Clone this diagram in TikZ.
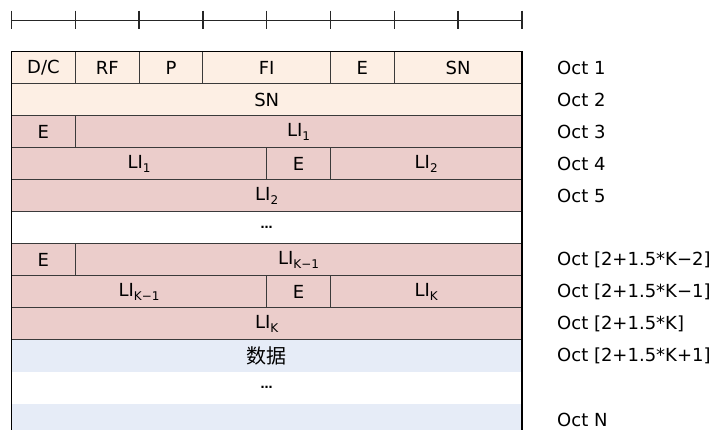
\documentclass[tikz,border=0pt]{standalone}
\usepackage{fontspec}
\setmainfont{DejaVu Sans}
\newfontfamily\cjk{Noto Sans CJK SC}
\usetikzlibrary{positioning}

\definecolor{octpeach}{HTML}{FDEFE4}
\definecolor{octpink}{HTML}{EBCDCB}
\definecolor{octblue}{HTML}{E6ECF7}
\definecolor{octline}{HTML}{3A3A3A}

\tikzset{
  cell/.style={draw=octline, line width=0.9pt},
  fieldtext/.style={font=\fontsize{18}{18}\selectfont, inner sep=0pt},
  octlabel/.style={anchor=west, inner sep=0pt, font=\fontsize{18}{18}\selectfont},
  ruler/.style={draw=black!85, line width=1pt},
  outer/.style={draw=black, line width=1.2pt},
}
\newcommand\lisub[1]{LI\raisebox{-0.4ex}{\fontsize{12}{12}\selectfont #1}}
\newcommand\octdots{{\fontsize{12}{12}\selectfont\bfseries …}}
% name, from bit, to bit, row, colour, text
\newcommand\octfield[6]{%
  \draw[cell, fill=#5] (#2,#4-1) rectangle (#3,#4);
  \node[fieldtext] (#1) at ({(#2+#3)/2},#4-0.5) {#6};
}

\begin{document}
\begin{tikzpicture}[x=63.8pt, y=-32pt]
  \useasboundingbox (-11.5pt,51.7pt) rectangle (702.5pt,-378.3pt);
  \clip (-11.5pt,51.7pt) rectangle (702.5pt,-378.3pt);

  % bit ruler
  \draw[ruler] (0,-0.99) -- (8,-0.99);
  \foreach \b in {0,...,8}
    \draw[ruler, line width=1.3pt] (\b,-1.28) -- (\b,-0.70);

  % octet 1 and 2
  \octfield{dc}{0}{1}{1}{octpeach}{D/C}
  \octfield{rf}{1}{2}{1}{octpeach}{RF}
  \octfield{p}{2}{3}{1}{octpeach}{P}
  \octfield{fi}{3}{5}{1}{octpeach}{FI}
  \octfield{ea}{5}{6}{1}{octpeach}{E}
  \octfield{sna}{6}{8}{1}{octpeach}{SN}
  \octfield{snb}{0}{8}{2}{octpeach}{SN}

  % length indicators
  \octfield{eb}{0}{1}{3}{octpink}{E}
  \octfield{lione}{1}{8}{3}{octpink}{\lisub{1}}
  \octfield{lionb}{0}{4}{4}{octpink}{\lisub{1}}
  \octfield{ec}{4}{5}{4}{octpink}{E}
  \octfield{litwo}{5}{8}{4}{octpink}{\lisub{2}}
  \octfield{litwb}{0}{8}{5}{octpink}{\lisub{2}}
  \octfield{dotsa}{0}{8}{6}{white}{\octdots}
  \octfield{ed}{0}{1}{7}{octpink}{E}
  \octfield{likm}{1}{8}{7}{octpink}{\lisub{K−1}}
  \octfield{likmb}{0}{4}{8}{octpink}{\lisub{K−1}}
  \octfield{ee}{4}{5}{8}{octpink}{E}
  \octfield{lik}{5}{8}{8}{octpink}{\lisub{K}}
  \octfield{likb}{0}{8}{9}{octpink}{\lisub{K}}

  % data
  \fill[octblue] (0,9) rectangle (8,10);
  \fill[octblue] (0,11) rectangle (8,12.9);
  \node[fieldtext, font=\cjk\fontsize{20}{20}\selectfont] (data) at (4,9.5) {数据};
  \node[fieldtext] (dotsb) at (4,10.5) {\octdots};
  \draw[cell] (0,9) -- (8,9);
  \draw[outer] (0,12.9) -- (0,0) -- (8,0) -- (8,12.9);

  % octet numbers
  \foreach \r/\t in {1/1, 2/2, 3/3, 4/4, 5/5, 7/{[2+1.5*K−2]},
      8/{[2+1.5*K−1]}, 9/{[2+1.5*K]}, 10/{[2+1.5*K+1]}, 12/N}
    \node[octlabel] (oct\r) at (8.55,\r-0.5) {Oct \t};
\end{tikzpicture}
\end{document}
